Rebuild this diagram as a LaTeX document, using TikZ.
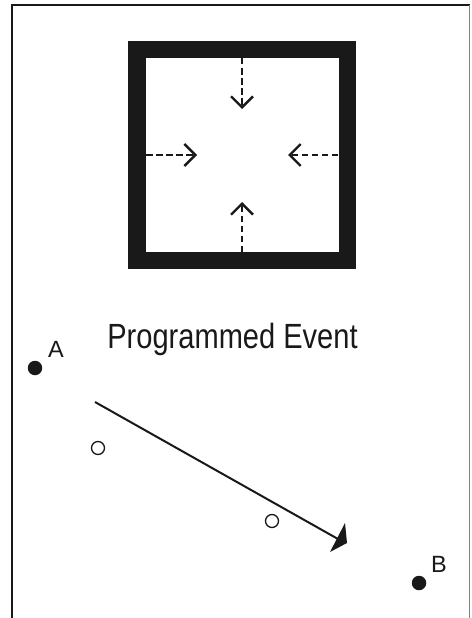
\documentclass[tikz,border=0pt]{standalone}
\usepackage{fontspec}
\setmainfont{Liberation Sans}
\newfontfamily\condfont[FakeStretch=0.83]{Liberation Sans}
\usetikzlibrary{arrows.meta}
\begin{document}
\begin{tikzpicture}[x=1pt,y=-1pt,
  frameline/.style={line width=2pt, draw=black!90},
  inarrow/.style={line width=2.4pt, draw=black!90, dash pattern=on 6.5pt off 3.5pt,
    -{Straight Barb[length=11pt,width=22pt]}},
  dotpt/.style={circle, fill=black!90, minimum size=14.5pt, inner sep=0pt},
  hollow/.style={circle, draw=black!90, line width=1.3pt, minimum size=13pt, inner sep=0pt},
  lbl/.style={font=\fontsize{23.5}{26}\selectfont, inner sep=0pt, anchor=base, text=black!90},
  titlefont/.style={font=\condfont\fontsize{35}{38}\selectfont, inner sep=0pt, anchor=base, text=black!90},
]
\useasboundingbox (0,0) rectangle (471,618);
% frame
\coordinate (fbl) at (12,618);
\coordinate (ftl) at (12,5);
\coordinate (ftr) at (469.5,5);
\coordinate (fbr) at (469.5,618);
\draw[frameline, line join=miter] (fbl) -- (ftl) -- (ftr);
\draw[gray, line width=1.2pt] (ftr) -- (fbr);
% black square
\draw[line width=17.5pt, draw=black!90] (137,49.5) rectangle (347.5,260.5);
% dashed arrows
\coordinate (t0) at (242,58);   \coordinate (t1) at (242,109);
\coordinate (b0) at (242,252);  \coordinate (b1) at (242,202);
\coordinate (l0) at (146,155);  \coordinate (l1) at (197,155);
\coordinate (r0) at (338,155);  \coordinate (r1) at (288,155);
\draw[inarrow] (t0) -- (t1);
\draw[inarrow] (b0) -- (b1);
\draw[inarrow] (l0) -- (l1);
\draw[inarrow] (r0) -- (r1);
% title
\node[titlefont] (title) at (232.5,348) {Programmed Event};
% points
\node[dotpt] (A) at (35,368) {};
\node[lbl] (Alab) at (56,357) {A};
\node[dotpt] (B) at (419,583) {};
\node[lbl] (Blab) at (439,572) {B};
\node[hollow] (c1) at (98,448) {};
\node[hollow] (c2) at (272,521) {};
% main arrow
\coordinate (s) at (95,402);
\coordinate (e) at (338,539);
\coordinate (h1) at (345,523);
\coordinate (h2) at (330,552);
\coordinate (h3) at (347,543);
\draw[line width=2pt, draw=black!90] (s) -- (e);
\fill[black!90] (h1) -- (h2) -- (h3) -- cycle;
\end{tikzpicture}
\end{document}
